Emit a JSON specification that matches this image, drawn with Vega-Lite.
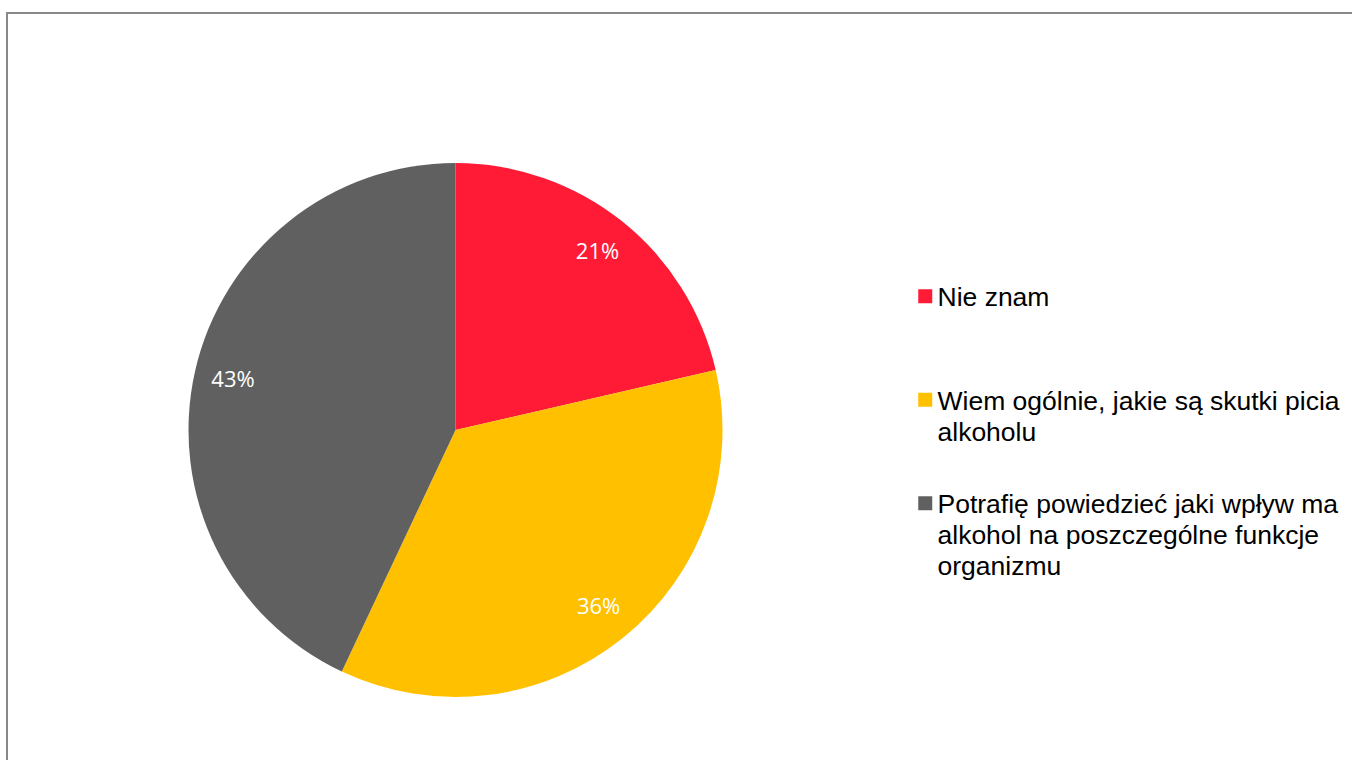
{
  "$schema": "https://vega.github.io/schema/vega-lite/v6.json",
  "width": 1400,
  "height": 800,
  "autosize": {"type": "none"},
  "padding": {"left": 7, "top": 13, "right": 0, "bottom": 0},
  "background": "white",
  "view": {"stroke": "#898989", "strokeWidth": 2},
  "config": {
    "view": {"stroke": "#898989", "strokeWidth": 2},
    "style": {"guide-label": {"lineHeight": 31}}
  },
  "data": {
    "values": [
      {"category": "Nie znam", "share": 0.214, "order": 1},
      {"category": "Wiem ogólnie, jakie są skutki picia\nalkoholu", "share": 0.356, "order": 2},
      {"category": "Potrafię powiedzieć jaki wpływ ma\nalkohol na poszczególne funkcje\norganizmu", "share": 0.43, "order": 3}
    ]
  },
  "layer": [
    {
      "mark": {"type": "arc", "radius": 267, "x": 448.5, "y": 417},
      "encoding": {
        "theta": {"field": "share", "type": "quantitative", "stack": true},
        "order": {"field": "order", "type": "quantitative"},
        "color": {
          "field": "category",
          "type": "nominal",
          "sort": {"field": "order"},
          "scale": {"range": ["#FF1A35", "#FFC000", "#606060"]},
          "legend": {
            "title": null,
            "orient": "none",
            "legendX": 905,
            "legendY": 270,
            "symbolType": "square",
            "symbolSize": 196,
            "symbolStrokeWidth": 0,
            "labelFont": "Liberation Sans",
            "labelFontSize": 26.5,
            "labelColor": "#000000",
            "labelOffset": -1,
            "labelLimit": 500,
            "labelBaseline": "top",
            "rowPadding": 43.5,
            "labelExpr": "datum.label == 'Nie znam' ? ['Nie znam', ''] : split(datum.label, '\\n')",
            "encode": {"labels": {"update": {"dy": {"value": -11}}}}
          }
        }
      }
    },
    {
      "mark": {"type": "text", "radius": 228, "x": 448.5, "y": 417, "font": "Open Sans", "fontSize": 22, "fill": "#FFFFFF"},
      "encoding": {
        "theta": {"field": "share", "type": "quantitative", "stack": true},
        "order": {"field": "order", "type": "quantitative"},
        "text": {"field": "share", "type": "quantitative", "format": ".0%"}
      }
    }
  ]
}
